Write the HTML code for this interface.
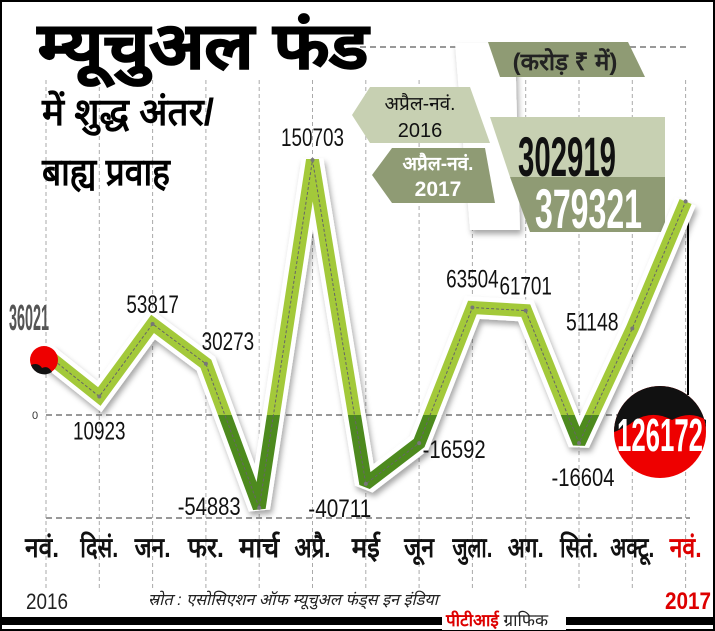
<!DOCTYPE html>
<html><head><meta charset="utf-8"><style>
body{margin:0;background:#fff}
svg{display:block}
text{font-family:"Liberation Sans","Noto Sans CJK SC",sans-serif}
</style></head><body>
<svg id="c" width="715" height="631" viewBox="0 0 715 631">
<defs>
<filter id="sh" x="-10%" y="-10%" width="130%" height="130%"><feDropShadow dx="2" dy="4" stdDeviation="3" flood-color="#000" flood-opacity="0.35"/></filter>
<clipPath id="above"><rect x="0" y="0" width="715" height="415"/></clipPath>
<clipPath id="below"><rect x="0" y="415" width="715" height="300"/></clipPath>
</defs>
<rect x="1" y="1" width="713" height="629" fill="#fff" stroke="#000" stroke-width="2"/>
<g id="grid"></g>
<line x1="360" y1="47" x2="690" y2="47" stroke="#999" stroke-width="2" stroke-dasharray="6,4"/>
<line x1="46" y1="415" x2="690" y2="415" stroke="#999" stroke-width="2" stroke-dasharray="6,4"/>
<line x1="46" y1="518" x2="690" y2="518" stroke="#999" stroke-width="2" stroke-dasharray="6,4"/>
<text x="32" y="419" font-size="11" fill="#333">0</text>

<text x="38" y="68" font-size="64" font-weight="bold" textLength="330" lengthAdjust="spacingAndGlyphs" stroke="#000" stroke-width="1.5">म्यूचुअल फंड</text>
<text x="42" y="125" font-size="38" font-weight="bold" textLength="172" lengthAdjust="spacingAndGlyphs">में शुद्ध अंतर/</text>
<text x="42" y="185" font-size="38" font-weight="bold" textLength="128" lengthAdjust="spacingAndGlyphs">बाह्य प्रवाह</text>

<polygon points="455,43 515,43 520,230 470,230" fill="#fff" filter="url(#sh)"/>
<polygon points="488,42 628,42 645,77 500,77" fill="#8f9b74"/>
<text x="565" y="70" font-size="24" font-weight="bold" text-anchor="middle" fill="#222">(करोड़ ₹ में)</text>
<polygon points="352,115 370,87 470,87 490,143 370,143" fill="#c7d0b2"/>
<text x="420" y="110" font-size="19" text-anchor="middle" fill="#111">अप्रैल-नवं.</text>
<text x="420" y="137" font-size="20" text-anchor="middle" fill="#111">2016</text>
<polygon points="372,175 392,148 485,148 495,203 392,203" fill="#8f9b74"/>
<text x="438" y="170" font-size="19" font-weight="bold" text-anchor="middle" fill="#fff">अप्रैल-नवं.</text>
<text x="438" y="196" font-size="21" font-weight="bold" text-anchor="middle" fill="#fff">2017</text>
<polygon points="490,117 665,117 665,177 510,177" fill="#c7d0b2"/>
<polygon points="510,177 665,177 665,232 530,232" fill="#8f9b74"/>
<text x="518" y="176" font-size="56" font-weight="bold" fill="#111" textLength="98" lengthAdjust="spacingAndGlyphs">302919</text>
<text x="535" y="228" font-size="56" font-weight="bold" fill="#fff" textLength="107" lengthAdjust="spacingAndGlyphs">379321</text>

<line x1="688" y1="205" x2="688" y2="395" stroke="#000" stroke-width="2"/>
<g id="series"></g>
<g id="labels"></g>

<circle cx="44" cy="360" r="14" fill="#e00"/>
<path d="M31,365 Q38,362 42,368 Q48,365 52,372 A14,14 0 0 1 31,365Z" fill="#111"/>
<circle cx="660" cy="432" r="46" fill="#e00"/>
<path d="M614,432 A46,46 0 0 1 706,432 L706,420 Q690,410 672,420 Q650,408 630,424 Q620,430 614,432Z" fill="#111"/>
<text x="660" y="451" font-size="46" font-weight="bold" fill="#fff" text-anchor="middle" textLength="86" lengthAdjust="spacingAndGlyphs">126172</text>

<g id="months"></g>
<text x="47" y="609" font-size="22" text-anchor="middle" fill="#222" textLength="42" lengthAdjust="spacingAndGlyphs">2016</text>
<text x="688" y="609" font-size="24" font-weight="bold" text-anchor="middle" fill="#d00" textLength="46" lengthAdjust="spacingAndGlyphs">2017</text>
<text x="148" y="605" font-size="16" font-style="italic" fill="#222" textLength="290" lengthAdjust="spacingAndGlyphs">स्रोत : एसोसिएशन ऑफ म्यूचुअल फंड्स इन इंडिया</text>
<rect x="2" y="617" width="711" height="8" fill="#000"/>
<rect x="442" y="608" width="124" height="22" fill="#fff"/>
<text x="446" y="626" font-size="17" font-weight="bold" fill="#d00">पीटीआई <tspan fill="#222" font-weight="normal">ग्राफिक</tspan></text>
</svg>
<script>
const months=["नवं.","दिसं.","जन.","फर.","मार्च","अप्रै.","मई","जून","जुला.","अग.","सितं.","अक्टू.","नवं."];
const values=[36021,10923,53817,30273,-54883,150703,-40711,-16592,63504,61701,-16604,51148,126172];
const NS="http://www.w3.org/2000/svg";
const xS=i=>46+i*53.3;
const yS=v=>415-v*0.001692;
function mk(tag,attrs,parent){const e=document.createElementNS(NS,tag);for(const k in attrs)e.setAttribute(k,attrs[k]);parent.appendChild(e);return e;}
const grid=document.getElementById('grid');
months.forEach((m,i)=>{
  const l=mk('line',{x1:xS(i),x2:xS(i),y1:80,y2:590,stroke:'#aaa','stroke-width':1,'stroke-dasharray':'4,3'},grid);
  
  
});
const pts=values.map((v,i)=>xS(i)+','+yS(v)).join(' ');
const s=document.getElementById('series');
const J={'stroke-linejoin':'miter','stroke-miterlimit':1.6};
const outline=mk('polyline',Object.assign({points:pts,fill:'none',stroke:'#fff','stroke-width':22,filter:'url(#sh)'},J),s);


const up=mk('polyline',Object.assign({points:pts,fill:'none',stroke:'#a3c93a','stroke-width':13,'clip-path':'url(#above)'},J),s);


const dn=mk('polyline',Object.assign({points:pts,fill:'none',stroke:'#4d8a1e','stroke-width':13,'clip-path':'url(#below)'},J),s);


const ctr=mk('polyline',{points:pts,fill:'none',stroke:'#666','stroke-width':1,'stroke-dasharray':'3,2'},s);


values.forEach((v,i)=>{const p=mk('circle',{cx:xS(i),cy:yS(v),r:2,fill:'#777'},s);
  
  });
const lab=document.getElementById('labels');
// [dx, dy, bold]
const offs=[[-17,-24,1],[0,43,0],[0,-11,0],[22,-14,0],[-50,7,0],[0,-14,0],[-26,33,0],[35,15,0],[0,-20,0],[0,-16,0],[4,43,0],[-40,2,0]];
values.slice(0,12).forEach((v,vi)=>{
  const o=offs[vi];
  const str=String(v);
  const t=mk('text',{x:xS(vi)+o[0],y:yS(v)+o[1],'font-size':o[2]?36:25,'font-weight':o[2]?'bold':'normal',fill:o[2]?'#555':'#111','text-anchor':'middle',textLength:o[2]?40:str.length*10.5,lengthAdjust:'spacingAndGlyphs'},lab);
  t.textContent=str;
  
  
});
const mW=[34,38,36,36,40,36,28,30,40,36,38,44,32];
const mg=document.getElementById('months');
months.forEach((m,i)=>{
  const t=mk('text',{x:xS(i)+(i==0?-4:0),y:557,'font-size':28,'font-weight':'bold','text-anchor':'middle',fill:i==12?'#d00':'#111',textLength:mW[i],lengthAdjust:'spacingAndGlyphs'},mg);
  t.textContent=m;
  
  
});
</script>
</body></html>
